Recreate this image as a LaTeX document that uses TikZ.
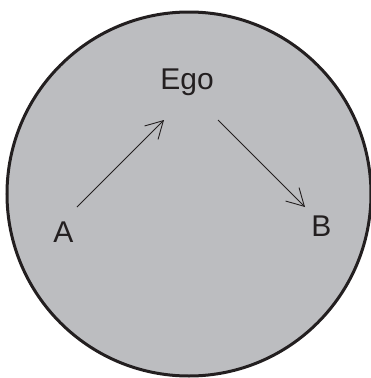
\documentclass[tikz,border=0pt]{standalone}
\usepackage{fontspec}
\setmainfont{Liberation Sans}
\usetikzlibrary{arrows.meta}
\definecolor{fillgray}{RGB}{188,189,192}
\definecolor{inkdark}{RGB}{35,31,32}
\tikzset{
  lbl/.style={font=\fontsize{30}{36}\selectfont, text=inkdark, anchor=base, inner sep=0pt},
  conn/.style={draw=inkdark, line width=0.9pt, -{Straight Barb[length=17pt,width=19pt,line width=0.9pt]}}
}
\begin{document}
\begin{tikzpicture}[x=1pt,y=-1pt]
\useasboundingbox (0,0) rectangle (370,378);
\fill[fillgray] (189,194) circle (182);
\draw[inkdark, line width=3pt] (189,194) circle (182);
\node[lbl] (ego) at (187,89) {Ego};
\node[lbl] (a) at (63.5,242) {A};
\node[lbl] (b) at (321.5,236.5) {B};
\coordinate (a1) at (77,207);
\coordinate (a2) at (164,120);
\coordinate (b1) at (218,120);
\coordinate (b2) at (305,207);
\draw[conn] (a1) -- (a2);
\draw[conn] (b1) -- (b2);
\end{tikzpicture}
\end{document}
